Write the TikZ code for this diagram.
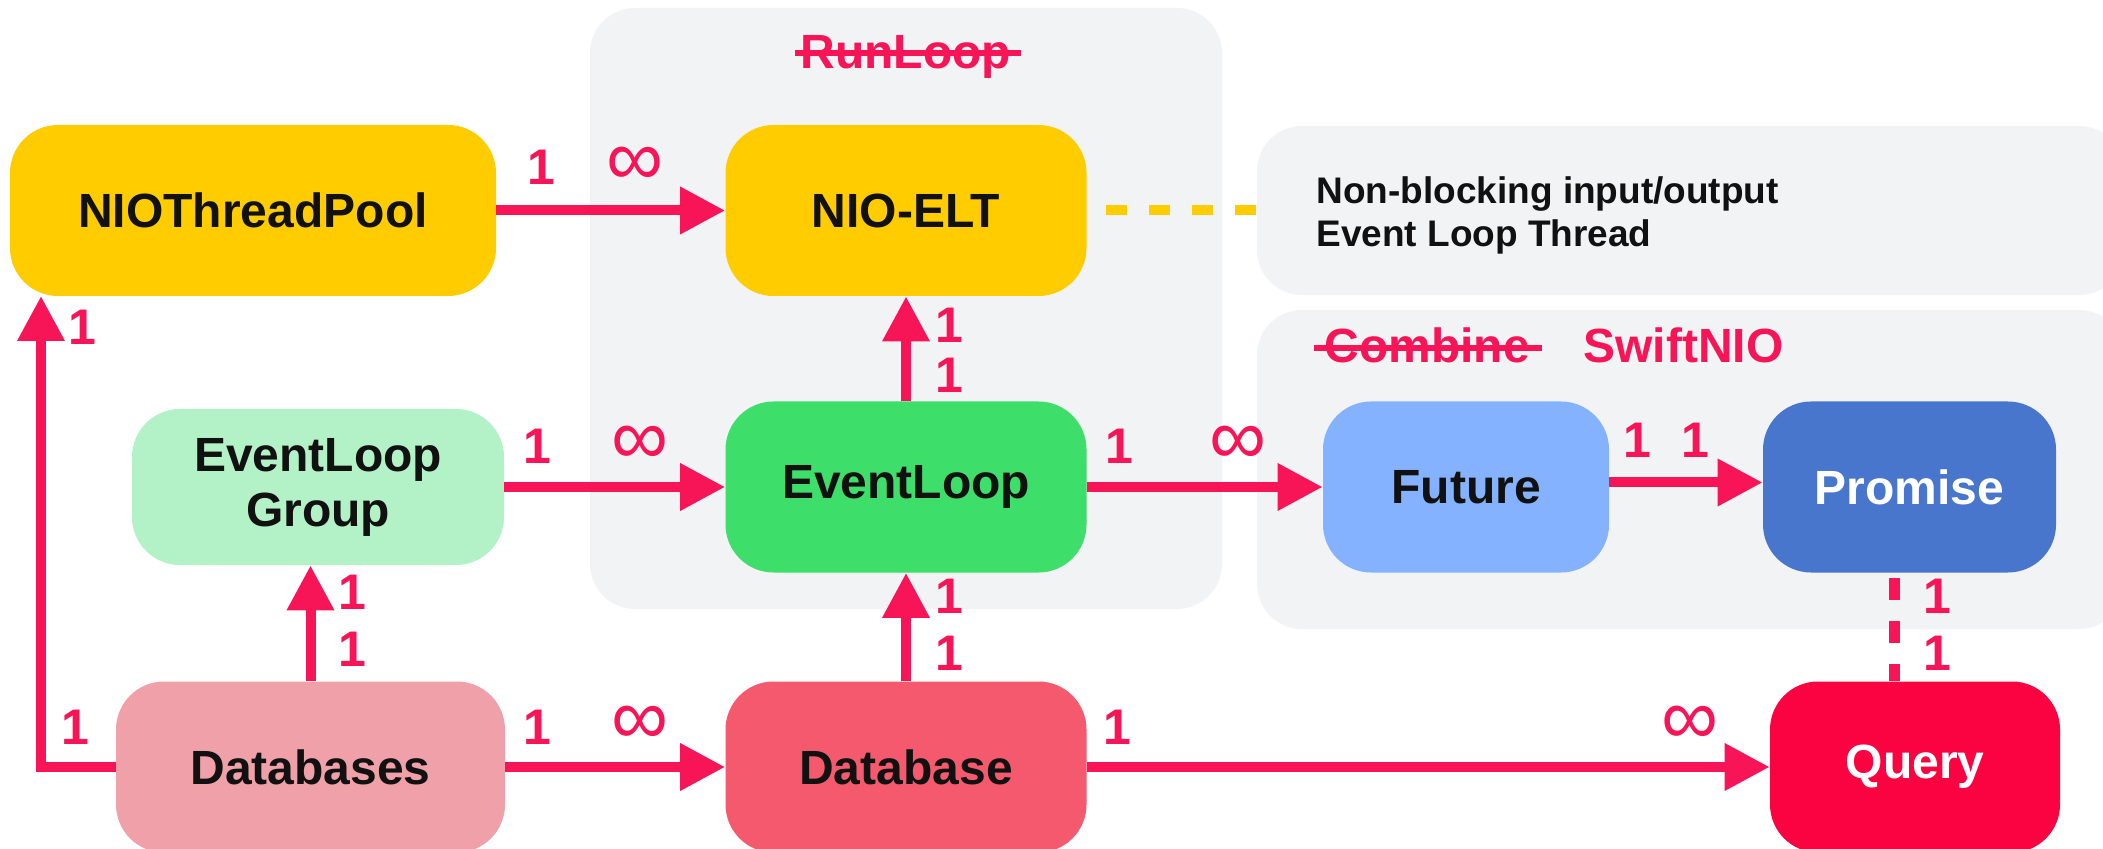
\documentclass[tikz,border=0pt]{standalone}
\usepackage{fontspec}
\setmainfont{Liberation Sans}
\usetikzlibrary{arrows.meta}
\definecolor{pk}{HTML}{F71558}
\definecolor{yl}{HTML}{FFCC00}
\definecolor{bgc}{HTML}{F2F3F5}
\definecolor{txt}{HTML}{111111}
\definecolor{elgc}{HTML}{B2F2C6}
\definecolor{elc}{HTML}{3DDE6A}
\definecolor{futc}{HTML}{84B2FF}
\definecolor{prmc}{HTML}{4876CC}
\definecolor{dbsc}{HTML}{F0A0A8}
\definecolor{dbc}{HTML}{F5596E}
\definecolor{qryc}{HTML}{FB0340}
\begin{document}
\begin{tikzpicture}[x=0.5pt,y=-0.5pt,
 box/.style={rounded corners=24pt, inner sep=0pt, minimum height=85.5pt, text=txt, font=\bfseries\fontsize{24}{27.5}\selectfont, align=center},
 cont/.style={fill=bgc, rounded corners=22.5pt, inner sep=0pt},
 conn/.style={draw=pk, line width=5pt, -{Triangle[length=22.5pt,width=22.5pt]}},
 num/.style={text=pk, font=\bfseries\fontsize{25}{25}\selectfont, inner sep=0pt},
 inf/.style={text=pk, font=\fontsize{40}{40}\selectfont, inner sep=0pt},
 strike/.style={draw=pk, line width=3pt},
 title/.style={text=pk, font=\bfseries\fontsize{24}{24}\selectfont, inner sep=0pt, anchor=base west}
]
\useasboundingbox (0,0) rectangle (2103,849);
\fill[white] (0,0) rectangle (2103,849);
% containers
\node[cont, minimum width=316pt, minimum height=300.5pt] (runloop) at (906,308.5) {};
\node[cont, minimum width=433.5pt, minimum height=84.5pt] (nb) at (1690.5,210.5) {};
\node[cont, minimum width=433.5pt, minimum height=159.5pt] (swift) at (1690.5,469.5) {};
% titles
\node[title] (rl) at (800,69) {RunLoop};
\draw[strike] ([xshift=-2.5pt,yshift=7.8pt]rl.base west) -- ([xshift=5pt,yshift=7.8pt]rl.base east);
\node[title] (cmb) at (1324,363) {Combine};
\draw[strike] ([xshift=-5pt,yshift=7.3pt]cmb.base west) -- ([xshift=6pt,yshift=7.3pt]cmb.base east);
\node[title] (snio) at (1583,363) {SwiftNIO};
\node[anchor=west, font=\bfseries\fontsize{18.5}{21.5}\selectfont, align=left, inner sep=0pt, text=txt] (nbt) at (1316,215) {Non-blocking input/output\\Event Loop Thread};
% nodes
\node[box, fill=yl, minimum width=243pt] (ntp) at (253,210.5) {NIOThreadPool};
\node[box, fill=yl, minimum width=180.5pt] (elt) at (906,210.5) {NIO-ELT};
\node[box, fill=elgc, minimum width=186pt, minimum height=78pt] (elg) at (318,487) {EventLoop\\Group};
\node[box, fill=elc, minimum width=180.5pt] (el) at (906,487) {EventLoop};
\node[box, fill=futc, minimum width=143pt] (fut) at (1466,487) {Future};
\node[box, fill=prmc, minimum width=146.5pt, text=white] (prm) at (1909.5,487) {Promise};
\node[box, fill=dbsc, minimum width=194.5pt] (dbs) at (310.5,767) {Databases};
\node[box, fill=dbc, minimum width=180.5pt] (db) at (906,767) {Database};
\node[box, fill=qryc, minimum width=145pt, text=white] (qry) at (1915,767) {Query};
% connectors
\draw[conn] (ntp) -- (elt);
\draw[conn] (el) -- (elt);
\draw[conn] (elg) -- (el);
\draw[conn] (el) -- (fut);
\draw[conn] ([yshift=2.25pt]fut.east) -- ([yshift=2.25pt]fut.east -| prm.west);
\draw[conn] (dbs.north) -- (dbs.north |- elg.south);
\draw[conn] (db) -- (el);
\draw[conn] (dbs) -- (db);
\draw[conn] (db) -- (qry);
\coordinate (lp) at (41,296);
\draw[conn] (dbs.west) -| (lp);
\coordinate (pq) at (1894,0);
\draw[draw=pk, line width=5.5pt, dash pattern=on 11pt off 10.5pt, dash phase=19pt] (prm.south -| pq) -- (qry.north -| pq);
\draw[draw=yl, line width=5pt, dash pattern=on 10.5pt off 11pt] ([xshift=9.5pt]elt.east) -- (elt.east -| nb.west);
% labels
\node[num] (a1) at (541,167) {1};
\node[inf] (a2) at (635,166) {∞};
\node[num] (b1) at (537,446) {1};
\node[inf] (b2) at (640,445) {∞};
\node[num] (c1) at (1119,446) {1};
\node[inf] (c2) at (1238,445) {∞};
\node[num] (d1) at (1637,440) {1};
\node[num] (d2) at (1695,440) {1};
\node[num] (e1) at (537,727) {1};
\node[inf] (e2) at (640,725) {∞};
\node[num] (f1) at (1117,727) {1};
\node[inf] (f2) at (1690,725) {∞};
\node[num] (g1) at (352,592) {1};
\node[num] (g2) at (352,649) {1};
\node[num] (h1) at (949,596) {1};
\node[num] (h2) at (949,653) {1};
\node[num] (i1) at (949,325) {1};
\node[num] (i2) at (949,375) {1};
\node[num] (j1) at (82,327) {1};
\node[num] (j2) at (75,727) {1};
\node[num] (k1) at (1937,596) {1};
\node[num] (k2) at (1937,653) {1};
\end{tikzpicture}
\end{document}
